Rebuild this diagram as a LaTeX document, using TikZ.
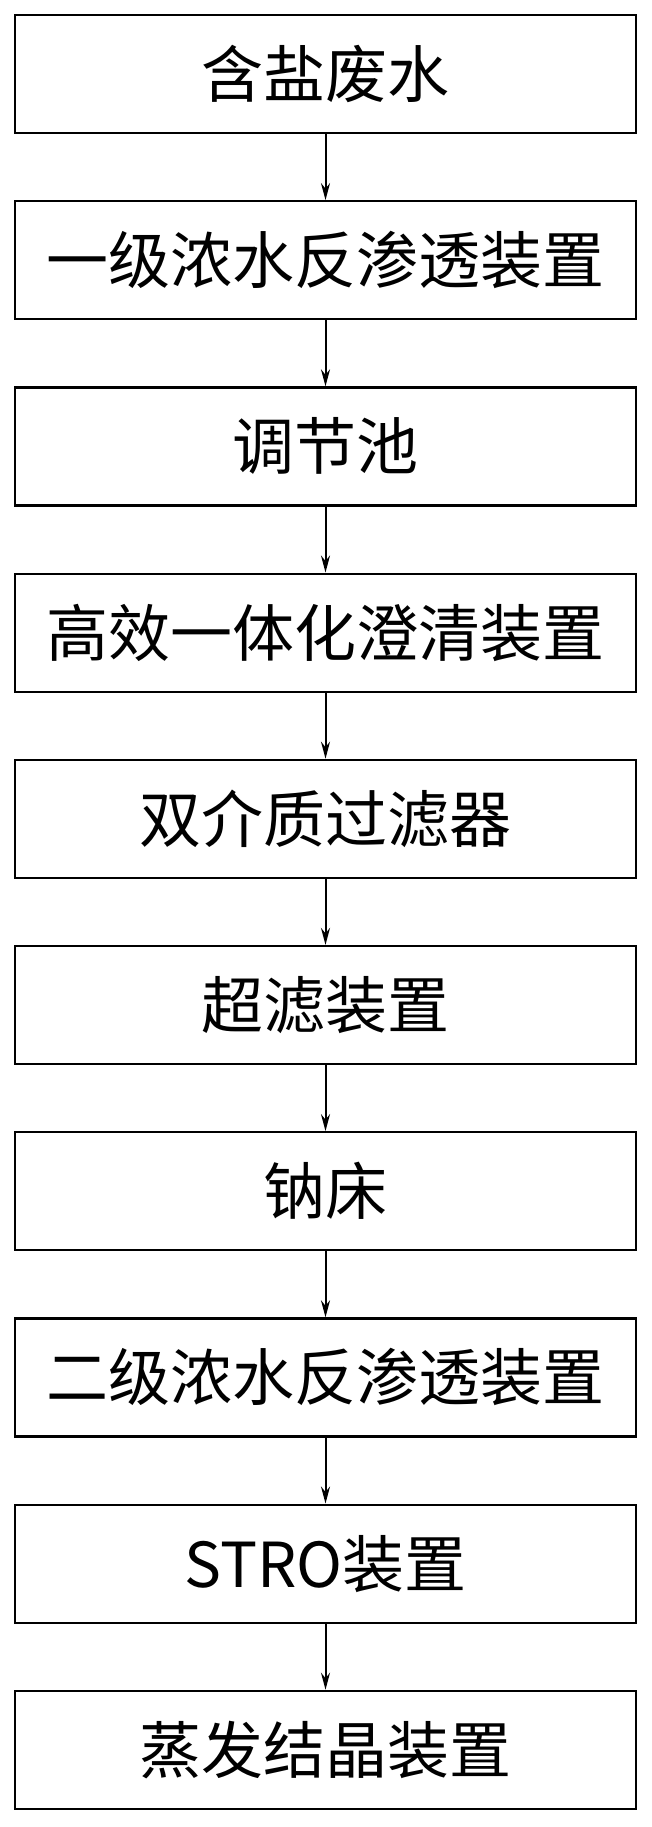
\documentclass[tikz,border=0pt]{standalone}
\usepackage{fontspec}
\setmainfont{Noto Sans CJK SC}
\usetikzlibrary{arrows.meta,positioning}

\begin{document}
\begin{tikzpicture}[x=1pt,y=1pt,
  stepbox/.style={draw,line width=2.2pt,minimum width=621pt,minimum height=118pt,inner sep=0pt,font=\fontsize{62}{64}\selectfont},
  flow/.style={line width=2pt,-{Stealth[length=17pt,width=9pt]}},
  node distance=66pt]
  \useasboundingbox (0,0) rectangle (651,-1827); % 画面全体の大きさ
  \node[stepbox] (feed) at (325.5,-74) {含盐废水}; % 原水
  \node[stepbox,below=of feed] (roA) {一级浓水反渗透装置};
  \node[stepbox,below=of roA] (tank) {调节池};
  \node[stepbox,below=of tank] (clar) {高效一体化澄清装置};
  \node[stepbox,below=of clar] (dmf) {双介质过滤器};
  \node[stepbox,below=of dmf] (uf) {超滤装置};
  \node[stepbox,below=of uf] (na) {钠床};
  \node[stepbox,below=of na] (roB) {二级浓水反渗透装置};
  \node[stepbox,below=of roB] (stro) {STRO装置};
  \node[stepbox,below=of stro] (evap) {蒸发结晶装置}; % 最終工程
  \foreach \a/\b in {feed/roA,roA/tank,tank/clar,clar/dmf,dmf/uf,uf/na,na/roB,roB/stro,stro/evap}
    \draw[flow] (\a) -- (\b); % 工程間の矢印
\end{tikzpicture}
\end{document}
